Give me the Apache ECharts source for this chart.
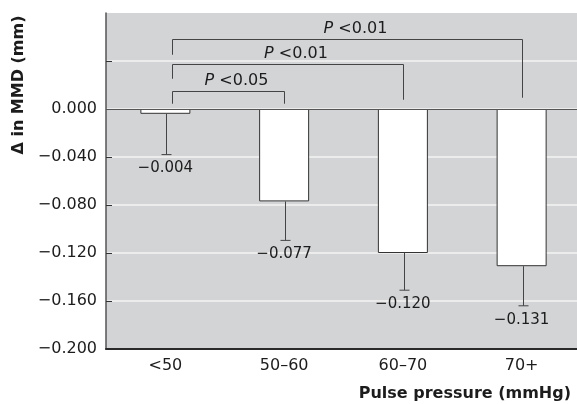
<!DOCTYPE html>
<html>
<head>
<meta charset="utf-8">
<script src="https://cdn.jsdelivr.net/npm/echarts@6.0.0/dist/echarts.min.js"></script>
<style>
  html, body { margin: 0; padding: 0; background: #fff; }
  #main { width: 577px; height: 404px; }
</style>
</head>
<body>
<div id="main"></div>
<script>
// data
var categories = ['<50', '50\u201360', '60\u201370', '70+'];
var meanChange = [-0.004, -0.077, -0.120, -0.131];
var errorEnd = [-0.038, -0.1095, -0.151, -0.164];
var yTicks = { min: -0.2, max: 0.08, interval: 0.04 };
var yTickMarks = [-0.16, -0.12, -0.08, -0.04, 0, 0.04];

// significance brackets: from / to category, bracket height, leg ends, label
var bracketFrom = [0, 0, 0];
var bracketTo = [1, 2, 3];
var bracketTop = [0.0152, 0.0377, 0.0585];
var bracketLeftEnd = [0.0044, 0.0252, 0.0452];
var bracketRightEnd = [0.0044, 0.0077, 0.0094];
var bracketText = ['P <0.05', 'P <0.01', 'P <0.01'];

var FONT = 'DejaVu Sans';
var INK = '#333';
var TEXT = '#1c1c1c';

function fmt(v) {
    var s = Math.abs(v).toFixed(3);
    return v < 0 ? '\u2212' + s : s;
}

var errorData = [];
for (var i = 0; i < categories.length; i++) {
    errorData.push([i, meanChange[i], errorEnd[i]]);
}
var bracketData = [];
for (var j = 0; j < bracketFrom.length; j++) {
    bracketData.push([bracketFrom[j], bracketTo[j], bracketTop[j], bracketLeftEnd[j], bracketRightEnd[j]]);
}

var myChart = echarts.init(document.getElementById('main'), null, { renderer: 'canvas' });

var option = {
    animation: false,
    backgroundColor: '#fff',
    grid: {
        left: 106, top: 13, right: -4, bottom: 55,
        show: true,
        backgroundColor: '#d3d4d6',
        borderWidth: 0,
        outerBoundsMode: 'none'
    },
    xAxis: {
        type: 'category',
        data: categories,
        axisLine: { show: true, onZero: false, lineStyle: { color: '#2a2a2a', width: 2 } },
        axisTick: { show: false },
        axisLabel: { color: TEXT, fontFamily: FONT, fontSize: 16, margin: 9 },
        z: 6
    },
    yAxis: {
        type: 'value',
        min: yTicks.min,
        max: yTicks.max,
        interval: yTicks.interval,
        axisLine: { show: true, lineStyle: { color: '#555', width: 1.5 } },
        axisTick: { show: true, inside: true, length: 6, customValues: yTickMarks, lineStyle: { color: '#333' } },
        axisLabel: {
            color: TEXT, fontFamily: FONT, fontSize: 16, margin: 9,
            formatter: function (v) { return v > 0.0001 ? '' : fmt(v); }
        },
        splitLine: { show: true, lineStyle: { color: '#f4f4f4', width: 1.5 } }
    },
    series: [
        {
            type: 'bar',
            data: meanChange,
            barWidth: 50,
            itemStyle: { color: '#fff', borderColor: INK, borderWidth: 1 },
            markLine: {
                silent: true,
                symbol: 'none',
                label: { show: false },
                lineStyle: { color: '#555', width: 1, type: 'solid' },
                data: [{ yAxis: 0 }]
            },
            z: 3
        },
        {
            type: 'custom',
            data: errorData,
            z: 4,
            renderItem: function (params, api) {
                var top = api.coord([api.value(0), api.value(1)]);
                var bot = api.coord([api.value(0), api.value(2)]);
                var x = Math.round(top[0]) + 1.5;
                return {
                    type: 'group',
                    children: [
                        { type: 'line', shape: { x1: x, y1: top[1], x2: x, y2: bot[1] }, style: { stroke: '#444', lineWidth: 1 } },
                        { type: 'line', shape: { x1: x - 5, y1: bot[1], x2: x + 5, y2: bot[1] }, style: { stroke: '#444', lineWidth: 1 } },
                        {
                            type: 'text',
                            x: top[0], y: bot[1] + 14,
                            style: {
                                text: fmt(meanChange[params.dataIndex]),
                                fill: TEXT, font: '15px "' + FONT + '"',
                                align: 'center', verticalAlign: 'middle'
                            }
                        }
                    ]
                };
            }
        },
        {
            type: 'custom',
            data: bracketData,
            z: 5,
            clip: false,
            renderItem: function (params, api) {
                var l = api.coord([api.value(0), api.value(2)]);
                var r = api.coord([api.value(1), api.value(2)]);
                var le = api.coord([api.value(0), api.value(3)]);
                var re = api.coord([api.value(1), api.value(4)]);
                var xl = Math.round(l[0]) + 7.5;
                var xr = Math.round(r[0]) + 0.5;
                var yt = Math.round(l[1]) + 0.5;
                return {
                    type: 'group',
                    children: [
                        {
                            type: 'polyline',
                            shape: { points: [[xl, le[1]], [xl, yt], [xr, yt], [xr, re[1]]] },
                            style: { stroke: '#444', lineWidth: 1, fill: null }
                        },
                        {
                            type: 'text',
                            x: (xl + xr) / 2 + 8, y: yt - 11,
                            style: {
                                text: '{i|P} ' + bracketText[params.dataIndex].slice(2),
                                rich: { i: { fontStyle: 'italic', fontFamily: FONT, fontSize: 16, fill: TEXT } },
                                fill: TEXT, font: '16px "' + FONT + '"',
                                align: 'center', verticalAlign: 'middle'
                            }
                        }
                    ]
                };
            }
        }
    ],
    graphic: [
        {
            type: 'text',
            x: 19, y: 85,
            rotation: Math.PI / 2,
            style: {
                text: '\u0394 in MMD (mm)',
                font: 'bold 16px "' + FONT + '"',
                fill: TEXT, align: 'center', verticalAlign: 'middle'
            }
        },
        {
            type: 'text',
            x: 571, y: 394,
            style: {
                text: 'Pulse pressure (mmHg)',
                font: 'bold 16px "' + FONT + '"',
                fill: TEXT, align: 'right', verticalAlign: 'middle'
            }
        }
    ]
};

myChart.setOption(option);
</script>
</body>
</html>
